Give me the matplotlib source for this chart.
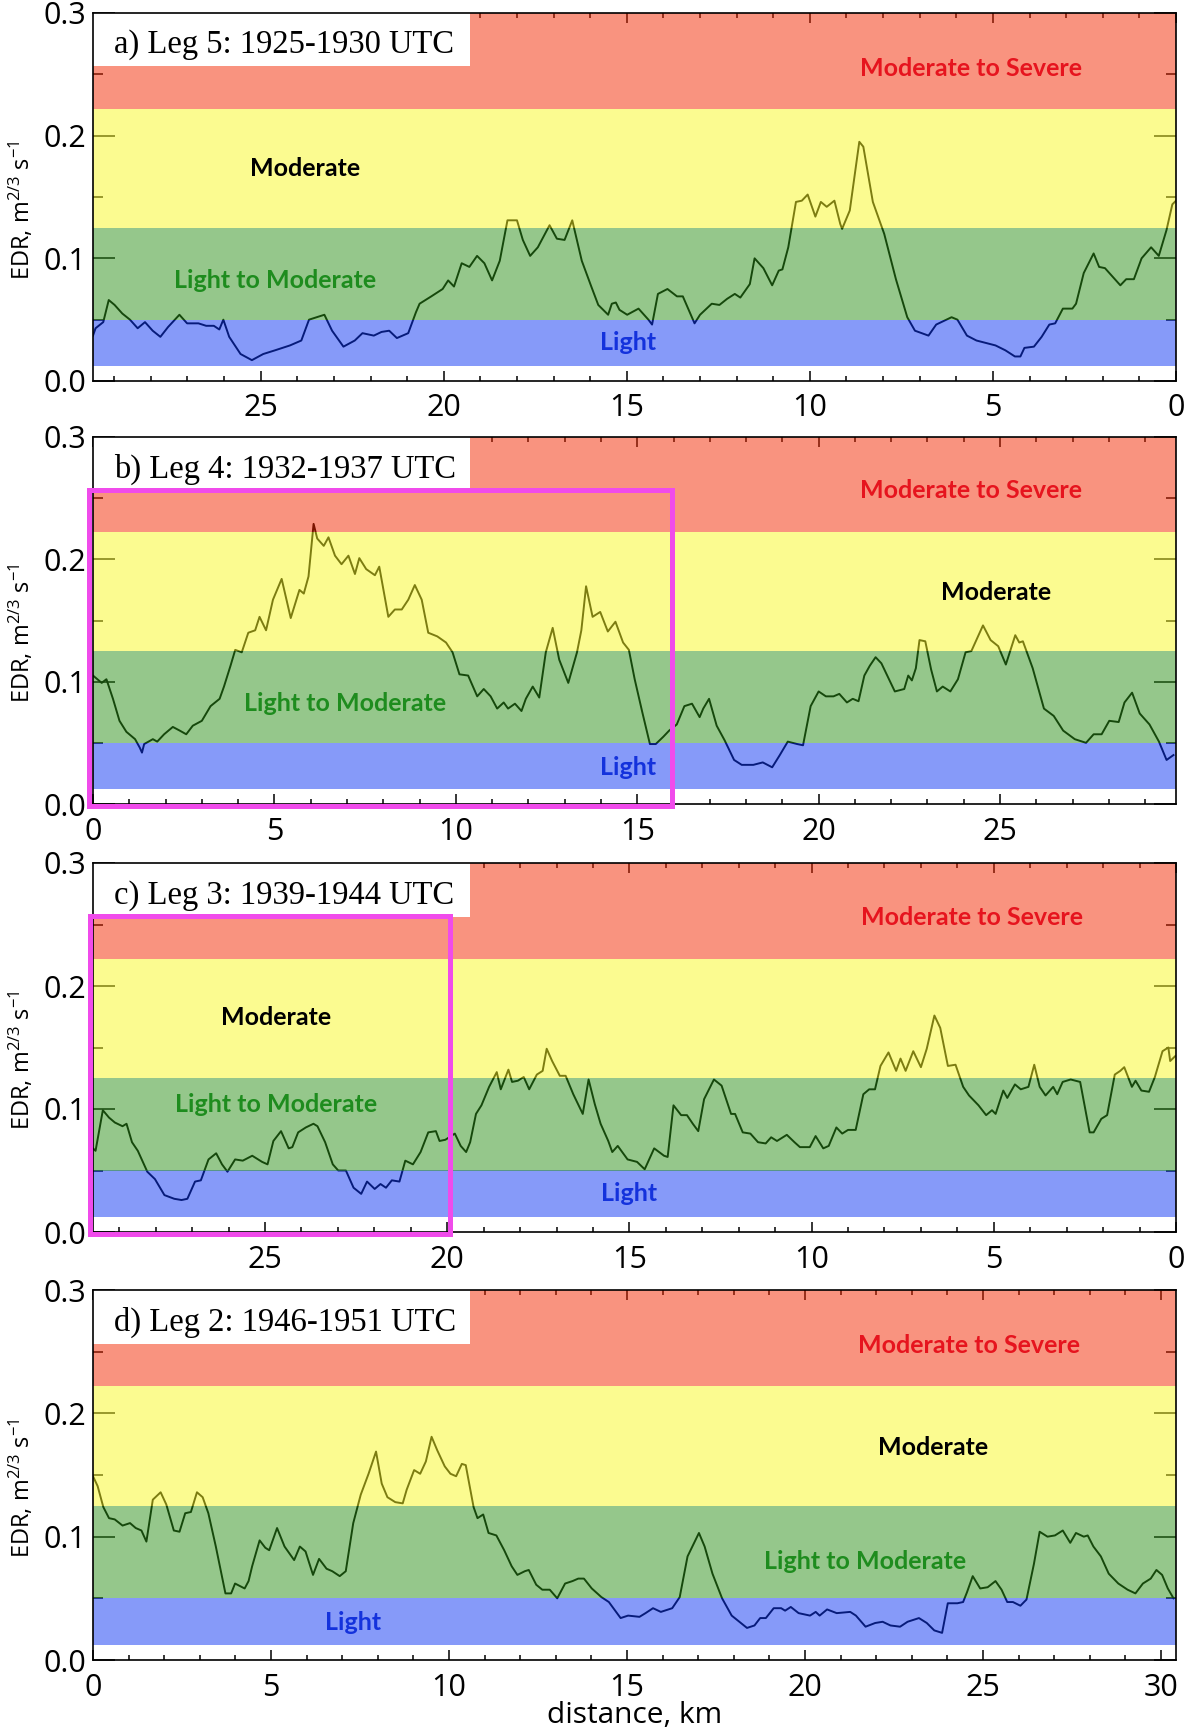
import numpy as np
import matplotlib.pyplot as plt
import matplotlib.font_manager as fm
from matplotlib.patches import Rectangle
from matplotlib.ticker import MultipleLocator, FormatStrFormatter

# -----------------------------
# DATA
# -----------------------------

# a) Leg 5 (distance axis runs right to left)
a_km = [29.58, 29.51, 29.30, 29.15, 28.99, 28.78, 28.57, 28.36, 28.16, 27.95, 27.74, 27.53,
        27.22, 27.01, 26.70, 26.49, 26.28, 26.13, 26.02, 25.86, 25.55, 25.24, 24.93, 24.61,
        24.20, 23.89, 23.68, 23.26, 23.05, 22.74, 22.43, 22.22, 21.91, 21.70, 21.49, 21.28,
        20.97, 20.76, 20.66, 20.34, 20.03, 19.88, 19.72, 19.51, 19.30, 19.09, 18.89, 18.68,
        18.47, 18.26, 18.00, 17.84, 17.64, 17.43, 17.11, 16.91, 16.70, 16.49, 16.23, 15.97,
        15.78, 15.51, 15.41, 15.30, 15.20, 14.99, 14.68, 14.41, 14.31, 14.15, 13.89, 13.63,
        13.47, 13.15, 13.00, 12.68, 12.47, 12.26, 12.05, 11.90, 11.64, 11.51, 11.27, 11.03,
        10.85, 10.75, 10.59, 10.38, 10.22, 10.06, 9.85, 9.70, 9.54, 9.33, 9.17, 9.12, 8.91,
        8.65, 8.54, 8.28, 7.97, 7.65, 7.34, 7.13, 6.76, 6.55, 6.13, 5.97, 5.71, 5.45, 5.19,
        4.93, 4.66, 4.40, 4.25, 4.14, 3.88, 3.67, 3.46, 3.30, 3.09, 2.83, 2.73, 2.52, 2.25,
        2.10, 1.94, 1.73, 1.52, 1.36, 1.15, 0.94, 0.68, 0.47, 0.26, 0.10, 0.0]
a_edr = [.037, .043, .048, .066, .062, .055, .050, .043, .048, .041, .036, .044,
         .054, .047, .047, .045, .045, .042, .050, .036, .022, .017, .022, .025,
         .029, .033, .050, .054, .041, .028, .033, .039, .037, .040, .041, .035,
         .039, .056, .063, .069, .075, .082, .077, .096, .093, .102, .096, .082,
         .098, .131, .131, .115, .102, .109, .127, .116, .115, .131, .098, .077,
         .062, .054, .063, .064, .058, .054, .059, .050, .046, .071, .075, .069,
         .069, .047, .054, .063, .062, .067, .071, .068, .079, .100, .092, .078,
         .090, .091, .109, .146, .147, .152, .134, .146, .142, .147, .128, .124, .139,
         .195, .191, .146, .120, .083, .052, .041, .037, .046, .052, .050, .037, .033, .031,
         .029, .025, .020, .020, .027, .028, .036, .046, .047, .059, .059, .063, .088, .104,
         .093, .092, .085, .078, .083, .083, .100, .109, .102, .123, .144, .147]

# b) Leg 4
b_km = [0.0, 0.12, 0.24, 0.37, 0.55, 0.73, 0.92, 1.16, 1.29, 1.35, 1.41, 1.65, 1.77, 1.96,
        2.20, 2.39, 2.57, 2.75, 3.00, 3.24, 3.49, 3.61, 3.79, 3.92, 4.10, 4.28, 4.47, 4.59,
        4.77, 4.96, 5.20, 5.45, 5.69, 5.81, 5.94, 6.08, 6.18, 6.36, 6.49, 6.67, 6.85, 7.04,
        7.22, 7.34, 7.53, 7.77, 7.89, 8.14, 8.32, 8.51, 8.69, 8.87, 9.06, 9.24, 9.49, 9.73,
        9.91, 10.10, 10.34, 10.59, 10.77, 10.96, 11.14, 11.32, 11.44, 11.63, 11.81, 11.93,
        12.12, 12.30, 12.48, 12.67, 12.85, 13.10, 13.34, 13.46, 13.59, 13.77, 13.98, 14.19,
        14.40, 14.61, 14.77, 14.93, 15.14, 15.35, 15.51, 15.72, 15.88, 16.09, 16.30, 16.51,
        16.72, 16.82, 16.98, 17.19, 17.41, 17.67, 17.88, 18.20, 18.46, 18.72, 18.93, 19.15,
        19.41, 19.57, 19.78, 20.00, 20.20, 20.41, 20.57, 20.78, 20.94, 21.10, 21.26, 21.41,
        21.57, 21.73, 21.89, 22.10, 22.36, 22.47, 22.57, 22.68, 22.78, 22.94, 23.10, 23.26,
        23.42, 23.63, 23.84, 24.05, 24.21, 24.53, 24.74, 24.95, 25.16, 25.42, 25.53, 25.63,
        25.90, 26.21, 26.48, 26.74, 27.06, 27.37, 27.58, 27.80, 28.01, 28.27, 28.43, 28.64,
        28.85, 29.12, 29.38, 29.59, 29.78]
b_edr = [.105, .102, .099, .102, .086, .068, .059, .053, .046, .042, .049, .053, .051, .057,
         .063, .060, .057, .064, .068, .080, .086, .096, .113, .126, .124, .140, .142, .153,
         .142, .167, .184, .152, .175, .172, .186, .229, .217, .211, .218, .203, .196, .203,
         .188, .201, .192, .187, .194, .153, .159, .159, .167, .179, .167, .140, .137, .132,
         .124, .106, .105, .088, .094, .088, .078, .083, .078, .082, .076, .086,
         .096, .087, .124, .144, .118, .099, .124, .142, .178, .153, .157, .141,
         .149, .132, .126, .102, .075, .049, .049, .055, .060, .065, .080, .082,
         .071, .078, .086, .064, .052, .036, .032, .032, .034, .030, .040, .051,
         .049, .048, .080, .092, .088, .088, .090, .083, .086, .084, .105, .113,
         .120, .115, .105, .092, .094, .105, .101, .111, .134, .133, .110, .092,
         .096, .092, .102, .124, .125, .146, .134, .129, .114, .138, .132, .133,
         .111, .078, .072, .060, .053, .050, .057, .057, .068, .067, .083, .091,
         .074, .065, .051, .036, .040]

# c) Leg 3 (distance axis runs right to left)
c_km = [29.72, 29.65, 29.45, 29.28, 29.12, 28.91, 28.80, 28.65, 28.49, 28.23, 28.02, 27.76,
        27.49, 27.29, 27.13, 26.92, 26.76, 26.55, 26.34, 26.18, 26.03, 25.82, 25.61, 25.35,
        25.08, 24.93, 24.77, 24.56, 24.35, 24.25, 24.09, 23.88, 23.67, 23.56, 23.35, 23.14,
        22.99, 22.78, 22.57, 22.36, 22.20, 21.99, 21.83, 21.68, 21.52, 21.31, 21.15, 20.94,
        20.73, 20.52, 20.31, 20.21, 20.05, 19.79, 19.63, 19.48, 19.37, 19.21, 19.06, 18.85,
        18.64, 18.53, 18.32, 18.22, 18.06, 17.90, 17.75, 17.54, 17.38, 17.27, 17.12, 16.91,
        16.75, 16.54, 16.28, 16.12, 15.95, 15.79, 15.58, 15.47, 15.32, 15.05, 14.79, 14.58,
        14.32, 14.05, 13.95, 13.79, 13.58, 13.42, 13.26, 13.11, 12.95, 12.68, 12.47, 12.21,
        12.10, 11.89, 11.68, 11.47, 11.26, 11.11, 10.95, 10.68, 10.47, 10.32, 10.05, 9.89,
        9.68, 9.53, 9.32, 9.16, 9.00, 8.79, 8.58, 8.42, 8.26, 8.11, 7.89, 7.68, 7.56, 7.42,
        7.21, 7.00, 6.84, 6.63, 6.47, 6.26, 6.05, 5.84, 5.68, 5.42, 5.21, 5.05, 4.95, 4.74,
        4.63, 4.42, 4.26, 4.05, 3.89, 3.74, 3.58, 3.37, 3.26, 3.11, 2.89, 2.63, 2.37, 2.26,
        2.05, 1.89, 1.68, 1.53, 1.42, 1.21, 1.11, 0.95, 0.74, 0.58, 0.37, 0.21, 0.16, 0.02]
c_edr = [.068, .066, .099, .093, .089, .086, .088, .073, .066, .049, .043, .030,
         .027, .026, .027, .041, .042, .059, .064, .055, .049, .059, .058, .062,
         .057, .055, .074, .082, .068, .069, .081, .085, .088, .086, .073, .055,
         .050, .050, .036, .031, .041, .035, .039, .036, .042, .041, .058, .055,
         .065, .081, .082, .074, .075, .080, .070, .065, .073, .096, .103, .118,
         .130, .116, .132, .122, .123, .126, .116, .128, .131, .149, .139, .127,
         .127, .112, .096, .124, .104, .088, .074, .065, .070, .059, .057, .051,
         .068, .062, .061, .103, .095, .095, .088, .082, .108, .124, .119, .096,
         .096, .081, .080, .073, .072, .077, .074, .079, .073, .069, .069, .078,
         .068, .070, .085, .080, .083, .083, .112, .116, .116, .135, .146, .131, .141, .131,
         .147, .134, .149, .176, .166, .135, .136, .118, .111, .103, .095, .099, .096, .115,
         .109, .120, .116, .118, .136, .118, .111, .118, .112, .122, .124, .122, .081, .081,
         .092, .095, .128, .131, .134, .118, .123, .115, .114, .126, .147, .150, .139, .143]

# d) Leg 2
d_km = [0.0, 0.13, 0.29, 0.45, 0.61, 0.83, 1.04, 1.20, 1.36, 1.50, 1.68, 1.90, 2.06, 2.27,
        2.43, 2.59, 2.75, 2.92, 3.08, 3.24, 3.45, 3.72, 3.88, 3.99, 4.26, 4.37, 4.47, 4.68,
        4.84, 4.95, 5.17, 5.38, 5.65, 5.81, 5.97, 6.18, 6.35, 6.56, 6.72, 6.93, 7.10, 7.31,
        7.52, 7.74, 7.95, 8.11, 8.27, 8.49, 8.70, 8.81, 9.02, 9.19, 9.35, 9.51, 9.67, 9.88,
        10.04, 10.20, 10.36, 10.47, 10.69, 10.80, 10.96, 11.11, 11.33, 11.55, 11.76, 11.92,
        12.13, 12.24, 12.45, 12.62, 12.83, 13.04, 13.26, 13.47, 13.63, 13.79, 14.01, 14.28,
        14.49, 14.82, 15.03, 15.35, 15.52, 15.73, 15.95, 16.27, 16.48, 16.70, 17.02, 17.18,
        17.40, 17.67, 17.94, 18.20, 18.37, 18.58, 18.74, 18.90, 19.12, 19.33, 19.44, 19.60,
        19.82, 20.14, 20.30, 20.41, 20.62, 20.89, 21.27, 21.43, 21.70, 21.97, 22.18, 22.40,
        22.67, 22.88, 23.20, 23.42, 23.63, 23.85, 24.01, 24.28, 24.44, 24.55, 24.71, 24.92,
        25.13, 25.35, 25.52, 25.68, 25.84, 26.05, 26.22, 26.43, 26.59, 26.81, 27.02, 27.24,
        27.45, 27.61, 27.83, 27.94, 28.10, 28.31, 28.53, 28.80, 29.06, 29.28, 29.49, 29.71,
        29.87, 30.03, 30.19, 30.35]
d_edr = [.149, .141, .124, .115, .114, .109, .111, .107, .105, .096, .130, .136, .126, .105,
         .104, .119, .120, .136, .132, .119, .092, .054, .054, .062, .058, .064, .076, .097,
         .091, .089, .107, .092, .081, .092, .088, .069, .082, .074, .072, .068, .072, .111,
         .134, .151, .169, .143, .132, .128, .127, .138, .154, .151, .161, .181, .170, .157,
         .151, .149, .159, .158, .124, .115, .118, .103, .101, .089, .076, .069,
         .072, .073, .061, .057, .057, .050, .062, .064, .066, .066, .058, .051,
         .047, .034, .036, .035, .038, .042, .039, .042, .051, .084, .103, .092,
         .070, .050, .036, .030, .026, .028, .034, .034, .042, .042, .040, .043,
         .038, .036, .039, .036, .041, .038, .039, .036, .027, .030, .031, .028,
         .027, .031, .034, .030, .024, .022, .046, .046, .047, .055, .068, .058,
         .059, .064, .057, .047, .047, .044, .049, .078, .104, .100, .101, .105,
         .095, .103, .100, .101, .092, .084, .070, .062, .057, .054, .062, .066,
         .073, .069, .058, .050]

# turbulence categories (EDR band edges)
band_names = ["Light", "Light to Moderate", "Moderate", "Moderate to Severe"]
band_lo = [0.012, 0.05, 0.125, 0.222]
band_hi = [0.05, 0.125, 0.222, 0.3]

titles = ["a) Leg 5: 1925-1930 UTC", "b) Leg 4: 1932-1937 UTC",
          "c) Leg 3: 1939-1944 UTC", "d) Leg 2: 1946-1951 UTC"]

# -----------------------------
# STYLE / LAYOUT
# -----------------------------

band_fill = ["#0F37F5", "#2D9119", "#F9F923", "#F52800"]
band_text = ["#1432DC", "#1E8C1E", "black", "#E6141E"]

# a tall narrow sans for the axis text, if it is there
installed = {f.name for f in fm.fontManager.ttflist}
if 'Liberation Sans Narrow' in installed:
    axis_font, tick_fs, xlab_fs, ylab_fs = 'Liberation Sans Narrow', 25, 25, 20
else:
    axis_font, tick_fs, xlab_fs, ylab_fs = 'Open Sans', 22, 21.5, 17

plt.rcParams['font.family'] = [axis_font, 'DejaVu Sans']
plt.rcParams['mathtext.default'] = 'regular'

# axes boxes in pixels: (top, bottom)
rows = [(13, 381), (437, 804), (863, 1232), (1290, 1660)]
xlims = [(29.58, 0), (0, 29.85), (29.72, 0), (0, 30.42)]

# where the band names sit, per panel (km, edr) in band_names order
label_pos = [
    [(14.96, 0.031), (24.6, 0.082), (23.8, 0.173), (5.6, 0.255)],
    [(14.74, 0.030), (6.96, 0.082), (24.9, 0.173), (24.2, 0.256)],
    [(15.0, 0.0315), (24.7, 0.1036), (24.7, 0.174), (5.6, 0.256)],
    [(7.3, 0.030), (21.7, 0.080), (23.6, 0.172), (24.6, 0.255)],
]

# magenta highlight boxes (panel index -> x0, x1, y0, y1)
highlight = {1: (-0.12, 15.97, -0.002, 0.257), 2: (19.92, 29.8, -0.002, 0.257)}

W, H = 1191, 1732
fig = plt.figure(figsize=(W / 100, H / 100), dpi=100)

series = [(a_km, a_edr), (b_km, b_edr), (c_km, c_edr), (d_km, d_edr)]

# -----------------------------
# DRAW PANELS
# -----------------------------

for i, (km, edr) in enumerate(series):
    top, bot = rows[i]
    ax = fig.add_axes([93 / W, 1 - bot / H, 1083 / W, (bot - top) / H])
    ax.set_axisbelow(True)

    ax.plot(km, edr, color='black', lw=1.4, zorder=1)
    for lo, hi, c in zip(band_lo, band_hi, band_fill):
        ax.axhspan(lo, hi, color=c, alpha=0.5, lw=0, zorder=2)

    # white box behind the panel title
    ax.add_patch(Rectangle((0, 0.855), 0.348, 0.145, transform=ax.transAxes,
                           facecolor='white', edgecolor='none', zorder=2.2))
    ax.text(0.019, 0.913, titles[i], transform=ax.transAxes, va='center',
            family='Liberation Serif', fontsize=23.5, zorder=4)

    for name, (x, y), col in zip(band_names, label_pos[i], band_text):
        ax.text(x, y, name, ha='center', va='center', color=col,
                family='Lato', fontweight='bold', fontsize=18, zorder=4)

    if i in highlight:
        x0, x1, y0, y1 = highlight[i]
        ax.add_patch(Rectangle((x0, y0), x1 - x0, y1 - y0, fill=False,
                               edgecolor='#F04BEB', lw=3.6, clip_on=False, zorder=6))

    ax.set_xlim(*xlims[i])
    ax.set_ylim(0, 0.3)
    ax.xaxis.set_major_locator(MultipleLocator(5))
    ax.xaxis.set_minor_locator(MultipleLocator(1))
    ax.yaxis.set_major_locator(MultipleLocator(0.1))
    ax.yaxis.set_minor_locator(MultipleLocator(0.05))
    ax.yaxis.set_major_formatter(FormatStrFormatter('%.1f'))

    ax.tick_params(which='both', direction='in', top=True, right=True,
                   labelsize=tick_fs, pad=5, width=1.1)
    ax.tick_params(axis='x', which='both', pad=9)
    ax.tick_params(axis='x', which='major', length=7)
    ax.tick_params(axis='x', which='minor', length=3.5)
    ax.tick_params(axis='y', which='major', length=16)
    ax.tick_params(axis='y', which='minor', length=7.5)
    for s in ax.spines.values():
        s.set_linewidth(1.2)

    ax.set_ylabel("EDR, m$^{2/3}$ s$^{-1}$", fontsize=ylab_fs)
    ax.yaxis.set_label_coords(-0.053, 0.465)

    if i == 3:
        ax.set_xlabel("distance, km", fontsize=xlab_fs, labelpad=-1)

fig.savefig("out.png", dpi=100)
